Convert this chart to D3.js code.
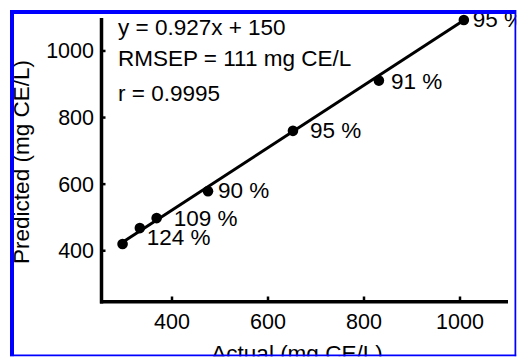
<!DOCTYPE html>
<html>
<head>
<meta charset="utf-8">
<script src="https://cdn.jsdelivr.net/npm/d3@7"></script>
<style>
  html, body { margin: 0; padding: 0; background: #fff; }
  svg { display: block; }
  text { font-family: "Liberation Sans", Arial, Helvetica, sans-serif; fill: #000; }
</style>
</head>
<body>
<svg id="chart" width="518" height="358"></svg>
<script>
// ---- data ----
const actual    = [297, 333, 368, 475, 652, 831, 1008];
const predicted = [420, 468, 498, 579, 760, 911, 1093];
const recovery  = ["", "124 %", "109 %", "90 %", "95 %", "91 %", "95 %"];
const xTicks = [400, 600, 800, 1000];
const yTicks = [400, 600, 800, 1000];
const fitSlope = 0.927, fitIntercept = 150;
const fitRange = [297, 1008];
const annotations = ["y = 0.927x + 150", "RMSEP = 111 mg CE/L", "r = 0.9995"];
const xTitle = "Actual (mg CE/L)";
const yTitle = "Predicted (mg CE/L)";

// label offsets (layout)
const labelDx = [0, 7, 17, 10, 17, 12, 9];
const labelDy = [0, 17, 8, 7, 7, 8, 7];

const svg = d3.select("#chart");
const W = 518, H = 358;
const x = d3.scaleLinear().domain([250, 1100]).range([100, 508]);
const y = d3.scaleLinear().domain([246, 1099]).range([302, 18]);
const FS = 22.5;

// axes lines
svg.append("line").attr("x1", 101.5).attr("x2", 101.5).attr("y1", y(1099)).attr("y2", 303.5)
  .attr("stroke", "#000").attr("stroke-width", 3.5);
svg.append("line").attr("x1", 100).attr("x2", x(1100)).attr("y1", 301.7).attr("y2", 301.7)
  .attr("stroke", "#000").attr("stroke-width", 3.5);

// ticks (inward)
svg.selectAll(".yt").data(yTicks).enter().append("line")
  .attr("x1", 102).attr("x2", 105.5).attr("y1", d => y(d)).attr("y2", d => y(d))
  .attr("stroke", "#000").attr("stroke-width", 2.5);
svg.selectAll(".xt").data(xTicks).enter().append("line")
  .attr("x1", d => x(d)).attr("x2", d => x(d)).attr("y1", 301).attr("y2", 296.5)
  .attr("stroke", "#000").attr("stroke-width", 2.5);

// tick labels
svg.selectAll(".yl").data(yTicks).enter().append("text")
  .attr("x", 94).attr("y", d => y(d) + 7.5).attr("text-anchor", "end")
  .attr("font-size", 21.5).text(d => d);
svg.selectAll(".xl").data(xTicks).enter().append("text")
  .attr("x", d => x(d)).attr("y", 329).attr("text-anchor", "middle")
  .attr("font-size", 21.5).text(d => d);

// axis titles
svg.append("text").attr("x", 297).attr("y", 361).attr("text-anchor", "middle")
  .attr("font-size", FS).text(xTitle);
svg.append("text").attr("transform", "translate(29,162) rotate(-90)")
  .attr("text-anchor", "middle").attr("font-size", FS).text(yTitle);

// fit line
svg.append("line")
  .attr("x1", x(fitRange[0])).attr("y1", y(fitSlope * fitRange[0] + fitIntercept))
  .attr("x2", x(fitRange[1])).attr("y2", y(fitSlope * fitRange[1] + fitIntercept + 8))
  .attr("stroke", "#000").attr("stroke-width", 3);

// points
svg.selectAll(".pt").data(actual).enter().append("circle")
  .attr("cx", d => x(d)).attr("cy", (d, i) => y(predicted[i]))
  .attr("r", 5.3).attr("fill", "#000");

// point labels
svg.selectAll(".pl").data(actual).enter().append("text")
  .attr("x", (d, i) => x(d) + labelDx[i])
  .attr("y", (d, i) => y(predicted[i]) + labelDy[i])
  .attr("font-size", FS).text((d, i) => recovery[i]);

// annotations
const annY = [35, 66, 101];
svg.selectAll(".an").data(annotations).enter().append("text")
  .attr("x", 118).attr("y", (d, i) => annY[i]).attr("font-size", FS).text(d => d);

// blue frame
svg.append("rect").attr("x", 10).attr("y", 10).attr("width", 506.5).attr("height", 4).attr("fill", "#0000ff");
svg.append("rect").attr("x", 10).attr("y", 10).attr("width", 4).attr("height", 346.5).attr("fill", "#0000ff");
svg.append("rect").attr("x", 514.5).attr("y", 10).attr("width", 2).attr("height", 346.5).attr("fill", "#0000ff");
svg.append("rect").attr("x", 10).attr("y", 354.5).attr("width", 506.5).attr("height", 2).attr("fill", "#0000ff");
svg.append("rect").attr("x", 516.5).attr("y", 0).attr("width", 2).attr("height", H).attr("fill", "#fff");
svg.append("rect").attr("x", 0).attr("y", 356.5).attr("width", W).attr("height", 2).attr("fill", "#fff");
</script>
</body>
</html>
